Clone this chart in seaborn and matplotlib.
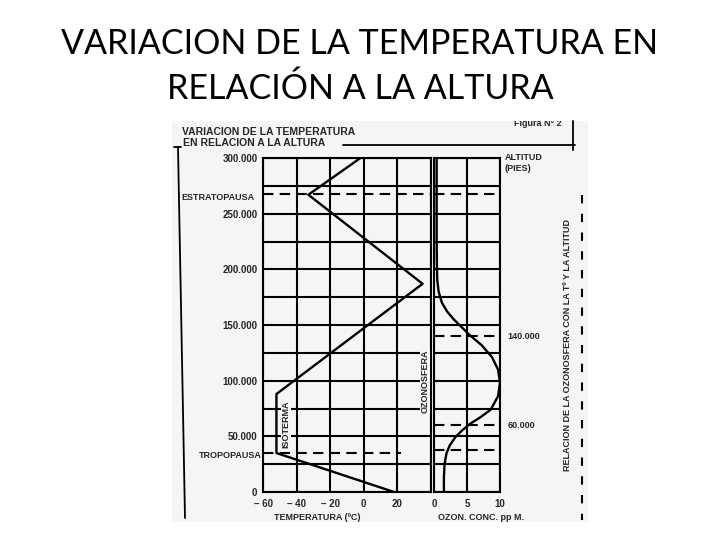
import seaborn as sns
import matplotlib.pyplot as plt
from matplotlib.lines import Line2D
from matplotlib.patches import Rectangle
from matplotlib.ticker import FuncFormatter

# temperatura (ºC) frente a altitud (pies)
temp_c = [18, -52, -52, 35, -33, -2]
temp_alt = [0, 35000, 88000, 187000, 267000, 300000]

# concentracion de ozono (ppm) frente a altitud (pies)
ozone_alt = [0, 13000, 25000, 35000, 42000, 49000, 55000, 61000, 67000, 74000,
             86000, 98000, 110000, 121000, 132000, 141000, 148000, 155000,
             162000, 170000, 180000, 190000, 200000, 225000, 300000]
ozone_ppm = [1.5, 1.5, 1.6, 1.9, 2.4, 3.2, 4.2, 5.4, 7.0, 8.6,
             9.7, 10.0, 9.7, 8.8, 7.2, 5.4, 4.2, 3.0,
             2.0, 1.2, 0.7, 0.5, 0.45, 0.4, 0.4]

temp_ticks = [-60, -40, -20, 0, 20, 40]
temp_ticklabels = ["– 60", "– 40", "– 20", "0", "20", ""]
ozone_ticks = [0, 5, 10]
ozone_ticklabels = ["0", "5", "10"]
alt_ticks = list(range(0, 300001, 25000))

stratopause = 268000
tropopause = 35000
ozone_marks = [140000, 60000]

W, H = 720, 540
paper = "#f5f5f5"


def fx(x):
    return x / W


def fy(y):
    return 1 - y / H


def px_rect(x0, y0, x1, y1):
    return [x0 / W, 1 - y1 / H, (x1 - x0) / W, (y1 - y0) / H]


sns.set_style("white")
plt.rcParams["font.family"] = ["Liberation Sans", "DejaVu Sans"]

fig = plt.figure(figsize=(7.2, 5.4), dpi=100)

# titulo de la diapositiva
fig.text(0.5, fy(54), "VARIACION DE LA TEMPERATURA EN", ha="center", va="baseline",
         fontsize=24.5, color="black", family=["Lato", "DejaVu Sans"])
fig.text(0.5, fy(99), "RELACIÓN A LA ALTURA", ha="center", va="baseline",
         fontsize=24.5, color="black", family=["Lato", "DejaVu Sans"])

# fondo de la hoja escaneada
scan = Rectangle((fx(172), fy(522)), (588 - 172) / W, (522 - 121) / H,
                 transform=fig.transFigure, facecolor=paper, edgecolor="none", zorder=-1)
fig.patches.append(scan)

ax_t = fig.add_axes(px_rect(263, 158, 431, 492))
ax_o = fig.add_axes(px_rect(434, 158, 500, 492))

sns.lineplot(x=temp_c, y=temp_alt, orient="y", estimator=None, color="black",
             linewidth=1.7, ax=ax_t)
sns.lineplot(x=ozone_ppm, y=ozone_alt, orient="y", estimator=None, color="black",
             linewidth=1.7, ax=ax_o)

fmt = FuncFormatter(lambda v, p: f"{int(v):,}".replace(",", ".") if v % 50000 == 0 else "")

for ax in (ax_t, ax_o):
    ax.set_facecolor("none")
    ax.set_ylim(0, 300000)
    ax.set_yticks(alt_ticks)
    ax.grid(True, color="black", linewidth=1.5)
    for s in ax.spines.values():
        s.set_color("black")
        s.set_linewidth(1.5)
    ax.tick_params(length=0, labelsize=7)
    ax.set_xlabel("")
    ax.set_ylabel("")

ax_t.set_xlim(-60, 40)
ax_t.set_xticks(temp_ticks)
ax_t.set_xticklabels(temp_ticklabels, fontweight="bold", fontsize=7)
ax_t.yaxis.set_major_formatter(fmt)
ax_t.tick_params(axis="y", pad=4)
ax_t.tick_params(axis="x", pad=5)
for lab in ax_t.get_yticklabels():
    lab.set_fontweight("bold")

ax_o.set_xlim(0, 10)
ax_o.set_xticks(ozone_ticks)
ax_o.set_xticklabels(ozone_ticklabels, fontweight="bold", fontsize=7)
ax_o.set_yticklabels([])
ax_o.tick_params(axis="x", pad=5)

dash = (0, (5, 3))
ax_t.axhline(stratopause, color="black", linewidth=1.5, linestyle=dash)
ax_o.axhline(stratopause, color="black", linewidth=1.5, linestyle=dash)
ax_t.axhline(tropopause, xmax=0.82, color="black", linewidth=1.5, linestyle=dash)
ax_o.axhline(tropopause + 3000, color="black", linewidth=1.5, linestyle=dash)
for m in ozone_marks:
    ax_o.axhline(m, color="black", linewidth=1.5, linestyle=dash)
    ax_o.text(1.12, m, f"{m:,}".replace(",", "."), transform=ax_o.get_yaxis_transform(),
              ha="left", va="center", fontsize=6.5, fontweight="bold")

small = dict(fontsize=6.5, fontweight="bold")
box = dict(facecolor=paper, edgecolor="none", pad=0.6)
fig.text(fx(255), fy(197), "ESTRATOPAUSA", ha="right", va="center", **small)
fig.text(fx(262), fy(455), "TROPOPAUSA", ha="right", va="center", **small)
fig.text(fx(286), fy(424), "ISOTERMA", rotation=90, ha="center", va="center", bbox=box, **small)
fig.text(fx(425), fy(381), "OZONOSFERA", rotation=90, ha="center", va="center", bbox=box, **small)
fig.text(fx(505), fy(153), "ALTITUD\n(PIES)", ha="left", va="top", linespacing=1.3, **small)
fig.text(fx(317), fy(517), "TEMPERATURA (ºC)", ha="center", va="center", **small)
fig.text(fx(481), fy(517), "OZON. CONC. pp M.", ha="center", va="center", **small)
fig.text(fx(567), fy(345), "RELACION DE LA OZONOSFERA CON LA Tº Y LA ALTITUD",
         rotation=90, ha="center", va="center", **small)

# encabezado de la figura escaneada
fig.text(fx(182), fy(132), "VARIACION DE LA TEMPERATURA", ha="left", va="center",
         fontsize=7.5, fontweight="bold")
fig.text(fx(183), fy(143), "EN RELACION A LA ALTURA", ha="left", va="center",
         fontsize=7.5, fontweight="bold")
fig_no = fig.text(fx(514), fy(124), "Figura N° 2", ha="left", va="center",
                  fontsize=6.5, fontweight="bold")
fig_no.set_clip_path(scan)

# bordes de la hoja
border = dict(color="black", linewidth=1.3, transform=fig.transFigure)
fig.lines.append(Line2D([fx(343), fx(575)], [fy(145), fy(145)], **border))
fig.lines.append(Line2D([fx(174), fx(181)], [fy(147), fy(147)], **border))
fig.lines.append(Line2D([fx(178), fx(185)], [fy(147), fy(518)], **border))
fig.lines.append(Line2D([fx(573), fx(573)], [fy(121), fy(150)], **border))
fig.lines.append(Line2D([fx(582), fx(582)], [fy(195), fy(520)], linestyle=(0, (4, 5)),
                        color="black", linewidth=1.5, transform=fig.transFigure))

fig.savefig("out.png", dpi=100)
